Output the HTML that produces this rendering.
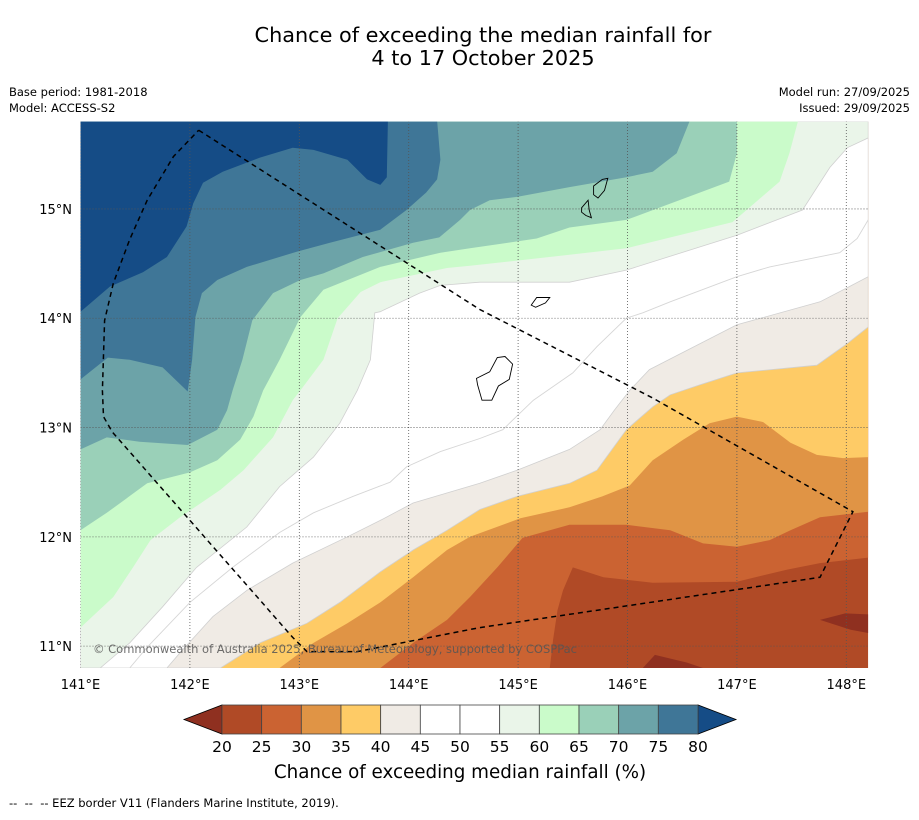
<!DOCTYPE html>
<html><head><meta charset="utf-8">
<style>
html,body{margin:0;padding:0;background:#fff;}
body{width:919px;height:816px;overflow:hidden;font-family:"DejaVu Sans","Liberation Sans",sans-serif;}
svg text{font-family:"DejaVu Sans","Liberation Sans",sans-serif;}
</style></head>
<body>
<svg id="chart" width="919" height="816" viewBox="0 0 919 816" xmlns="http://www.w3.org/2000/svg">
  <text x="483" y="42" font-size="20.8" text-anchor="middle" fill="#000">Chance of exceeding the median rainfall for</text>
  <text x="483" y="65" font-size="20.8" text-anchor="middle" fill="#000">4 to 17 October 2025</text>
  <text x="9" y="96" font-size="11.5">Base period: 1981-2018</text>
  <text x="9" y="112" font-size="11.5">Model: ACCESS-S2</text>
  <text x="910" y="96" font-size="11.5" text-anchor="end">Model run: 27/09/2025</text>
  <text x="910" y="112" font-size="11.5" text-anchor="end">Issued: 29/09/2025</text>
  <defs><clipPath id="plotclip"><rect x="80.5" y="121.6" width="787.7" height="546.4"/></clipPath></defs>
  <g id="plot" clip-path="url(#plotclip)"></g>
  <g id="axes"></g>
  <g id="cbar"></g>
  <text x="460" y="778" font-size="18.3" text-anchor="middle">Chance of exceeding median rainfall (%)</text>
  <text x="9" y="807" font-size="11.5" xml:space="preserve">--  --  -- EEZ border V11 (Flanders Marine Institute, 2019).</text>
</svg>
<script>
// ---- data: contour boundaries (lon, lat) ----
const levels = [25,30,35,40,45,55,60,65,70,75,80];
const bandColors = ["#b04a26","#cb6332","#e09445","#fecb66","#f0ebe5","#ffffff","#eaf5e9","#cafbca","#9ad0b8","#6ca3a8","#3f7697","#154c86"];
const belowColor = "#8f3020";
const cbarTicks = ["20","25","30","35","40","45","50","55","60","65","70","75","80"];
const cbarColors = ["#b04a26","#cb6332","#e09445","#fecb66","#f0ebe5","#ffffff","#ffffff","#eaf5e9","#cafbca","#9ad0b8","#6ca3a8","#3f7697"];
const lonTicks = [141,142,143,144,145,146,147,148];
const latTicks = [11,12,13,14,15];

const c25 = [[145.29,10.8],[145.32,11.06],[145.36,11.33],[145.41,11.51],[145.50,11.72],[145.78,11.63],[146.23,11.58],[147.0,11.59],[147.46,11.70],[147.76,11.76],[148.2,11.81]];
const c30 = [[143.74,10.8],[144.04,11.03],[144.35,11.24],[144.56,11.45],[144.81,11.72],[145.04,11.99],[145.47,12.11],[145.99,12.11],[146.39,12.06],[146.69,11.94],[147.0,11.91],[147.30,11.97],[147.49,12.06],[147.76,12.18],[148.2,12.23]];
const c35 = [[142.82,10.8],[143.13,11.03],[143.44,11.21],[143.74,11.40],[144.04,11.63],[144.35,11.88],[144.56,12.0],[145.02,12.17],[145.47,12.27],[145.77,12.37],[146.02,12.47],[146.23,12.70],[146.51,12.89],[146.75,13.04],[147.0,13.10],[147.24,13.05],[147.49,12.86],[147.73,12.75],[147.97,12.72],[148.2,12.73]];
const c40 = [[142.28,10.8],[142.64,11.03],[143.07,11.21],[143.37,11.40],[143.74,11.68],[144.04,11.88],[144.35,12.06],[144.65,12.25],[144.99,12.37],[145.47,12.49],[145.72,12.61],[145.99,12.98],[146.23,13.19],[146.39,13.30],[146.66,13.39],[147.0,13.50],[147.73,13.57],[148.01,13.77],[148.2,13.92]];
const c45 = [[141.79,10.8],[141.91,10.94],[142.21,11.27],[142.52,11.51],[142.94,11.76],[143.44,12.0],[143.74,12.15],[144.04,12.31],[144.65,12.49],[144.99,12.61],[145.47,12.80],[145.75,12.98],[145.88,13.16],[146.02,13.34],[146.20,13.53],[147.0,13.94],[147.76,14.15],[148.01,14.28],[148.2,14.38]];
const c55 = [[141.18,10.8],[141.45,11.03],[141.75,11.36],[142.06,11.72],[142.52,12.09],[142.82,12.46],[143.13,12.73],[143.37,13.04],[143.53,13.34],[143.65,13.62],[143.69,14.05],[143.74,14.06],[144.10,14.23],[144.29,14.30],[144.65,14.33],[145.47,14.33],[145.99,14.44],[147.0,14.76],[147.60,14.99],[147.85,15.38],[148.01,15.56],[148.2,15.65]];
const c60 = [[141.0,11.17],[141.30,11.45],[141.48,11.72],[141.64,11.97],[141.91,12.18],[142.28,12.43],[142.49,12.61],[142.76,12.91],[142.94,13.25],[143.01,13.34],[143.22,13.62],[143.35,14.0],[143.56,14.24],[143.74,14.33],[144.35,14.46],[144.56,14.48],[145.47,14.58],[145.99,14.64],[146.96,14.88],[147.39,15.25],[147.48,15.51],[147.56,15.81]];
const c65 = [[141.0,12.06],[141.24,12.22],[141.61,12.49],[142.0,12.59],[142.25,12.70],[142.46,12.89],[142.58,13.10],[142.67,13.34],[142.82,13.62],[143.01,14.01],[143.22,14.26],[143.74,14.47],[144.29,14.60],[144.56,14.64],[145.17,14.73],[145.47,14.83],[145.99,14.90],[146.93,15.25],[147.0,15.51],[147.0,15.81]];
const c70 = [[141.0,12.80],[141.24,12.91],[141.54,12.87],[141.98,12.84],[142.25,12.98],[142.34,13.16],[142.39,13.34],[142.48,13.62],[142.57,13.98],[142.76,14.23],[143.01,14.35],[143.22,14.41],[143.58,14.56],[144.04,14.69],[144.28,14.74],[144.47,14.90],[144.56,14.99],[144.74,15.08],[144.99,15.11],[145.47,15.20],[145.99,15.29],[146.23,15.34],[146.45,15.51],[146.57,15.81]];
const c75 = [[141.0,13.44],[141.25,13.64],[141.45,13.62],[141.75,13.55],[141.98,13.33],[142.02,13.62],[142.05,14.01],[142.11,14.23],[142.25,14.35],[142.52,14.47],[142.98,14.61],[143.28,14.69],[143.74,14.81],[143.98,14.99],[144.16,15.15],[144.26,15.27],[144.29,15.45],[144.26,15.81]];
const c80 = [[141.0,14.06],[141.27,14.29],[141.57,14.42],[141.79,14.56],[141.97,14.84],[142.03,15.05],[142.12,15.24],[142.30,15.34],[142.64,15.47],[142.94,15.56],[143.13,15.54],[143.44,15.45],[143.62,15.27],[143.74,15.22],[143.80,15.29],[143.81,15.81]];
const contours = [c25,c30,c35,c40,c45,c55,c60,c65,c70,c75,c80];
const c50line = [[141.45,10.8],[141.61,10.99],[142.0,11.40],[142.39,11.72],[142.82,12.04],[143.13,12.22],[143.49,12.37],[143.83,12.50],[143.98,12.64],[144.29,12.78],[144.65,12.90],[144.86,12.98],[145.14,13.25],[145.50,13.50],[145.72,13.74],[145.99,14.0],[146.14,14.05],[146.39,14.15],[147.0,14.38],[147.30,14.47],[147.94,14.60],[148.10,14.73],[148.2,14.90]];
const below20A = [[147.76,11.24],[147.99,11.30],[148.2,11.29],[148.2,11.12],[148.04,11.15]];
const below20B = [[146.14,10.8],[146.25,10.92],[146.54,10.85],[146.69,10.8]];
const eez = [[142.08,15.72],[144.65,14.08],[146.23,13.27],[148.06,12.23],[147.76,11.63],[144.65,11.17],[143.53,10.95],[143.07,10.95],[142.94,11.08],[141.29,12.96],[141.21,13.10],[141.20,13.34],[141.22,13.98],[141.30,14.32],[141.45,14.72],[141.61,15.08],[141.85,15.48],[142.08,15.72]];
const guam = [[144.62,13.45],[144.74,13.51],[144.81,13.64],[144.88,13.65],[144.95,13.58],[144.92,13.44],[144.82,13.38],[144.76,13.25],[144.67,13.25],[144.63,13.39]];
const rota = [[145.12,14.12],[145.17,14.19],[145.29,14.19],[145.25,14.14],[145.16,14.10]];
const tinian = [[145.58,15.01],[145.64,15.08],[145.65,14.99],[145.67,14.92],[145.62,14.94],[145.58,14.97]];
const saipan = [[145.69,15.21],[145.77,15.27],[145.82,15.28],[145.79,15.17],[145.73,15.10],[145.69,15.13]];

// ---- axes ----
const LON0=141.0, LON1=148.2, LAT0=10.8, LAT1=15.8;
const X0=80.5, Y0=668.0, PX=109.4, PY=109.3;
const xs = lon => X0 + (lon-LON0)*PX;
const ys = lat => Y0 - (lat-LAT0)*PY;
const NS="http://www.w3.org/2000/svg";
const plot=document.getElementById('plot'), axes=document.getElementById('axes'), cbar=document.getElementById('cbar');
function mk(tag, attrs, parent){const e=document.createElementNS(NS,tag);for(const k in attrs)e.setAttribute(k,attrs[k]);parent.appendChild(e);return e;}
const pts = arr => arr.map(p=>xs(p[0]).toFixed(1)+','+ys(p[1]).toFixed(1)).join(' ');

const bg = mk('rect',{x:xs(LON0),y:ys(LAT1),width:xs(LON1)-xs(LON0),height:ys(LAT0)-ys(LAT1),fill:bandColors[0]},plot);



contours.forEach((c,i)=>{
  const poly=c.slice();
  const last=c[c.length-1], first=c[0];
  if(last[0]>=LON1-1e-6) poly.push([LON1,LAT1]);
  poly.push([LON0,LAT1]);
  if(first[1]<=LAT0+1e-6) poly.push([LON0,LAT0]);
  const edge = bandColors[i+1]==="#ffffff"||bandColors[i+1]==="#eaf5e9"||bandColors[i+1]==="#f0ebe5" ? "#d0d0d0" : "none";
  const el=mk('polygon',{points:pts(poly),fill:bandColors[i+1],stroke:edge,'stroke-width':0.8},plot);
  
  
});
[below20A,below20B].forEach((p,i)=>{
  const el=mk('polygon',{points:pts(p),fill:belowColor},plot);
  
  
});
const l50=mk('polyline',{points:pts(c50line),fill:'none',stroke:'#d6d6d6','stroke-width':0.9},plot);



lonTicks.forEach(v=>{
  const g=mk('line',{x1:xs(v),x2:xs(v),y1:ys(LAT0),y2:ys(LAT1),stroke:'#555','stroke-width':0.8,'stroke-dasharray':'1,2'},plot);
  
  
});
latTicks.forEach(v=>{
  const g=mk('line',{x1:xs(LON0),x2:xs(LON1),y1:ys(v),y2:ys(v),stroke:'#555','stroke-width':0.8,'stroke-dasharray':'1,2'},plot);
  
  
});
[['guam',guam],['rota',rota],['tinian',tinian],['saipan',saipan]].forEach(([n,p])=>{
  const el=mk('polygon',{points:pts(p),fill:'none',stroke:'#000','stroke-width':0.9},plot);
  
  
});
const ez=mk('polyline',{points:pts(eez),fill:'none',stroke:'#000','stroke-width':1.5,'stroke-dasharray':'5,4'},plot);


const cp=mk('text',{x:93,y:653,'font-size':11.5,fill:'#555','fill-opacity':0.85,textLength:484},plot);
cp.textContent='© Commonwealth of Australia 2025, Bureau of Meteorology, supported by COSPPac';



lonTicks.forEach(v=>{
  const t=mk('text',{x:xs(v),y:689,'font-size':13,'text-anchor':'middle'},axes);
  t.textContent=v+'°E';
  
  
});
latTicks.forEach(v=>{
  const t=mk('text',{x:72,y:ys(v)+5,'font-size':13,'text-anchor':'end'},axes);
  t.textContent=v+'°N';
  
  
});

const CB0=222, CB1=698, CBT=705, CBB=734, TIPL=184, TIPR=736;
const bw=(CB1-CB0)/cbarColors.length;
const lt=mk('polygon',{points:`${TIPL},${(CBT+CBB)/2} ${CB0},${CBT} ${CB0},${CBB}`,fill:belowColor,stroke:'#000','stroke-width':0.8},cbar);


const rt=mk('polygon',{points:`${TIPR},${(CBT+CBB)/2} ${CB1},${CBT} ${CB1},${CBB}`,fill:bandColors[bandColors.length-1],stroke:'#000','stroke-width':0.8},cbar);


cbarColors.forEach((c,i)=>{
  const r=mk('rect',{x:CB0+i*bw,y:CBT,width:bw,height:CBB-CBT,fill:c,stroke:'#444','stroke-width':0.8},cbar);
  
  
});
cbarTicks.forEach((s,i)=>{
  const t=mk('text',{x:CB0+i*bw,y:752,'font-size':15.5,'text-anchor':'middle'},cbar);
  t.textContent=s;
  
  
});
</script>
</body></html>
